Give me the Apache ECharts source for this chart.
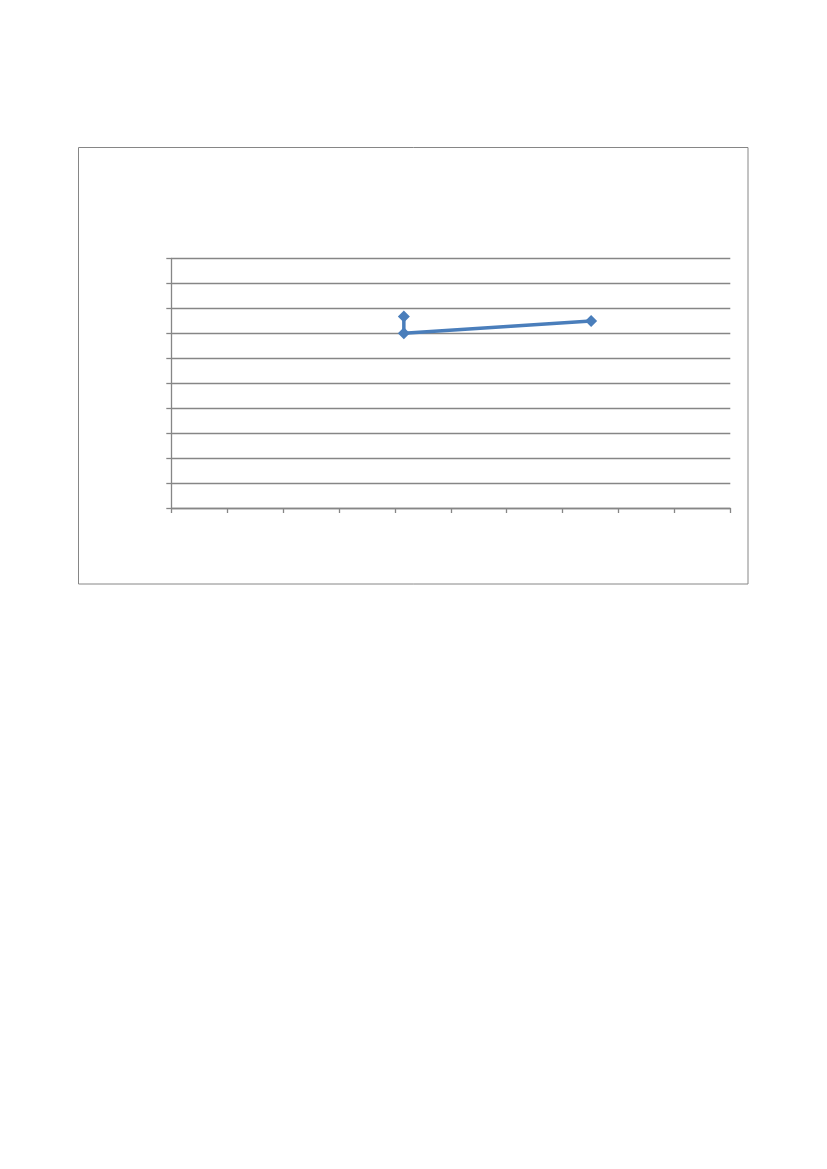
<!DOCTYPE html>
<html>
<head>
<meta charset="utf-8">
<script src="https://cdn.jsdelivr.net/npm/echarts@6/dist/echarts.min.js"></script>
<style>
html,body{margin:0;padding:0;background:#fff;}
#c{width:827px;height:1169px;}
</style>
</head>
<body>
<div id="c"></div>
<script>
var xValues = [4.16, 4.16, 7.51];
var yValues = [7.67, 7.0, 7.49];
var xMin = 0, xMax = 10, xStep = 1;
var yMin = 0, yMax = 10, yStep = 1;

var points = xValues.map(function (x, i) { return [x, yValues[i]]; });
var gray = '#868686';
var chart = echarts.init(document.getElementById('c'), null, {renderer: 'canvas'});
chart.setOption({
  animation: false,
  backgroundColor: '#fff',
  graphic: [{
    type: 'rect',
    shape: {x: 78.5, y: 147.5, width: 669.5, height: 436.5},
    style: {fill: 'none', stroke: gray, lineWidth: 1},
    silent: true
  }],
  grid: {left: 171.3, top: 258.3, right: 96.7, bottom: 661, containLabel: false},
  xAxis: {
    type: 'value', min: xMin, max: xMax, interval: xStep,
    axisLine: {show: true, lineStyle: {color: gray, width: 1.3}},
    axisTick: {show: true, inside: false, length: 5, lineStyle: {color: gray, width: 1.3}},
    axisLabel: {show: false},
    splitLine: {show: false}
  },
  yAxis: {
    type: 'value', min: yMin, max: yMax, interval: yStep,
    axisLine: {show: true, lineStyle: {color: gray, width: 1.3}},
    axisTick: {show: true, inside: false, length: 5, lineStyle: {color: gray, width: 1.3}},
    axisLabel: {show: false},
    splitLine: {show: true, lineStyle: {color: gray, width: 1.3}}
  },
  series: [{
    type: 'line',
    data: points,
    symbol: 'diamond',
    symbolSize: 12,
    lineStyle: {color: '#4a7ebb', width: 3.5},
    itemStyle: {color: '#4a7ebb'},
    z: 5
  }]
});
</script>
</body>
</html>
